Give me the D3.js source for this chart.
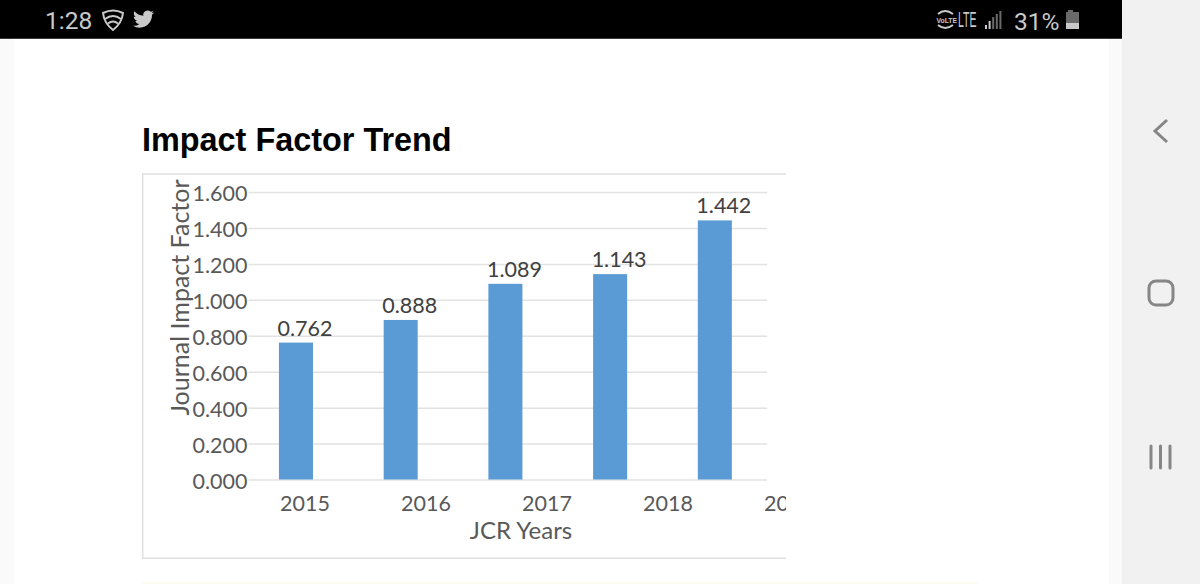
<!DOCTYPE html>
<html>
<head>
<meta charset="utf-8">
<script src="https://cdn.jsdelivr.net/npm/d3@7"></script>
<style>
  html, body { margin: 0; padding: 0; background: #fff; overflow: hidden; }
  svg { display: block; }
  .axis text { font-family: Lato, sans-serif; font-size: 21.5px; fill: #595959; }
  .axis path { display: none; }
  .grid line { stroke: #e2e2e2; stroke-width: 1.5; }
</style>
</head>
<body>
<svg id="chart" width="1200" height="584"></svg>
<script>
const barYears = ["2015", "2016", "2017", "2018", "2019"];
const barValues = [0.762, 0.888, 1.089, 1.143, 1.442];
const labelYears = ["2015", "2016", "2017", "2018", "2019"];
const yTicks = [0, 0.2, 0.4, 0.6, 0.8, 1.0, 1.2, 1.4, 1.6];

const svg = d3.select("#chart");

// Phone screen background
svg.append("rect").attr("width", 1200).attr("height", 584).attr("fill", "#ffffff");
svg.append("rect").attr("x", 0).attr("y", 39).attr("width", 14).attr("height", 545).attr("fill", "#fafafa");
svg.append("rect").attr("x", 1109).attr("y", 39).attr("width", 13).attr("height", 545).attr("fill", "#fafafa");
svg.append("rect").attr("x", 1122).attr("y", 0).attr("width", 78).attr("height", 584).attr("fill", "#f1f1f1");
svg.append("rect").attr("x", 142).attr("y", 582).attr("width", 836).attr("height", 2).attr("fill", "#fdfcf3");

// Status bar
svg.append("rect").attr("width", 1122).attr("height", 38).attr("fill", "#000000");
svg.append("rect").attr("y", 38).attr("width", 1122).attr("height", 1).attr("fill", "#3a3a3a");

const statusColor = "#c9c9c9";
const statusText = (x, y, size, str, family) => svg.append("text")
  .attr("x", x).attr("y", y)
  .attr("font-family", family || "Roboto, sans-serif")
  .attr("font-size", size)
  .attr("fill", statusColor)
  .text(str);

statusText(45, 29, 24.5, "1:28");
statusText(1014, 29.5, 24.5, "31%");

// Shield icon
const shield = svg.append("g").attr("fill", "none").attr("stroke", statusColor).attr("stroke-width", 2);
shield.append("path").attr("d", "M103 13 Q113 8 123 13 Q122 23 113 30 Q104 23 103 13 Z");
shield.append("path").attr("d", "M105 19 Q113 13 121 19");
shield.append("path").attr("d", "M108 23.5 Q113 19.5 118 23.5");

// Twitter bird
svg.append("path")
  .attr("transform", "translate(133,8.5) scale(0.88)")
  .attr("fill", statusColor)
  .attr("d", "M23.95 4.57a10 10 0 0 1-2.82.77 4.96 4.96 0 0 0 2.16-2.72c-.95.55-2 .96-3.13 1.19a4.92 4.92 0 0 0-8.38 4.48C7.69 8.1 4.07 6.13 1.64 3.16a4.82 4.82 0 0 0-.66 2.47c0 1.71.87 3.21 2.19 4.1a4.9 4.9 0 0 1-2.23-.62v.06a4.92 4.92 0 0 0 3.95 4.83 5 5 0 0 1-2.21.08 4.94 4.94 0 0 0 4.6 3.42A9.87 9.87 0 0 1 0 19.54a14 14 0 0 0 7.56 2.21c9.05 0 14-7.5 14-13.98 0-.21 0-.42-.02-.63a9.94 9.94 0 0 0 2.46-2.55z");

// VoLTE + LTE, both narrowed with a scale so their boxes stay apart
statusText(0, 0, 8, "VoLTE", "'Liberation Sans Narrow', sans-serif")
  .attr("font-weight", 700)
  .attr("transform", "translate(936.5,22.5) scale(0.85,1)");
const volte = svg.append("g").attr("fill", "none").attr("stroke", statusColor).attr("stroke-width", 2);
volte.append("path").attr("d", "M938 14 Q945 8 953 14");
volte.append("path").attr("d", "M938 25 Q945 31 953 25");
statusText(0, 0, 22, "LTE", "'Liberation Sans Narrow', sans-serif")
  .attr("transform", "translate(958,27) scale(0.48,1)");

// Signal bars (height rises left to right, last ones dimmed)
[4, 8, 12, 15, 18].forEach((h, i) => {
  svg.append("rect")
    .attr("x", 985 + i * 3.6).attr("y", 29 - h)
    .attr("width", 2).attr("height", h)
    .attr("fill", i < 2 ? statusColor : "#6a6a6a");
});

// Battery
svg.append("rect").attr("x", 1068).attr("y", 10).attr("width", 5).attr("height", 3).attr("fill", "#6a6a6a");
svg.append("rect").attr("x", 1066).attr("y", 12).attr("width", 13).attr("height", 11).attr("fill", "#6a6a6a");
svg.append("rect").attr("x", 1066).attr("y", 23).attr("width", 13).attr("height", 6).attr("fill", statusColor);

// Navigation buttons
const nav = svg.append("g").attr("fill", "none").attr("stroke", "#868686").attr("stroke-width", 3);
nav.append("path").attr("d", "M1167 120 L1155 131 L1167 142");
nav.append("rect").attr("x", 1149).attr("y", 281).attr("width", 24).attr("height", 24).attr("rx", 7);
[1151, 1160.5, 1170].forEach(x => {
  nav.append("line").attr("x1", x).attr("x2", x).attr("y1", 446).attr("y2", 468)
    .attr("stroke-linecap", "round");
});

// Title
svg.append("text")
  .attr("x", 142).attr("y", 151)
  .attr("font-family", "'Liberation Sans', Arial, sans-serif")
  .attr("font-weight", 700)
  .attr("font-size", 32.4)
  .attr("fill", "#000000")
  .text("Impact Factor Trend");

// Card border, open on the right
svg.append("path")
  .attr("d", "M786 174 H142.7 V558.3 H786")
  .attr("fill", "none")
  .attr("stroke", "#e0e0e0")
  .attr("stroke-width", 1.5);

svg.append("clipPath").attr("id", "card-clip")
  .append("rect").attr("x", 142).attr("y", 174).attr("width", 644).attr("height", 385);

const chart = svg.append("g").attr("clip-path", "url(#card-clip)");

// Scales. The year labels sit on a wider band than the bars, as in the source image.
const x = d3.scaleBand().domain(barYears).range([243.6, 767.2]).paddingInner(0.675).paddingOuter(0.3375);
const xLabels = d3.scaleBand().domain(labelYears).range([244.5, 849.5]);
const y = d3.scaleLinear().domain([0, 1.6]).range([479.5, 192]);

// Gridlines
chart.append("g")
  .attr("class", "grid")
  .attr("transform", "translate(243.6,0)")
  .call(d3.axisLeft(y).tickValues(yTicks).tickSize(-523.6).tickFormat(""))
  .call(g => g.select(".domain").remove())
  .call(g => g.selectAll("line").attr("x1", 5));

// Y axis
chart.append("g")
  .attr("class", "axis")
  .attr("transform", "translate(247.5,2)")
  .call(d3.axisLeft(y).tickValues(yTicks).tickSize(0).tickPadding(0).tickFormat(d3.format(".3f")));

// X axis
chart.append("g")
  .attr("class", "axis")
  .attr("transform", "translate(0,496)")
  .call(d3.axisBottom(xLabels).tickSize(0).tickPadding(0));

// Bars
chart.selectAll(".bar")
  .data(barValues)
  .join("rect")
  .attr("class", "bar")
  .attr("x", (d, i) => x(barYears[i]))
  .attr("y", d => y(d))
  .attr("width", x.bandwidth())
  .attr("height", d => y(0) - y(d))
  .attr("fill", "#5b9bd5");

// Value labels
chart.selectAll(".value")
  .data(barValues)
  .join("text")
  .attr("class", "value")
  .attr("x", (d, i) => x(barYears[i]) + x.bandwidth() / 2 + 9)
  .attr("y", d => y(d) - 7)
  .attr("text-anchor", "middle")
  .attr("font-family", "Lato, sans-serif")
  .attr("font-size", 21.5)
  .attr("fill", "#404040")
  .text(d => d3.format(".3f")(d));

// Axis titles
chart.append("text")
  .attr("x", 521).attr("y", 539)
  .attr("text-anchor", "middle")
  .attr("font-family", "Lato, sans-serif")
  .attr("font-size", 24)
  .attr("fill", "#595959")
  .text("JCR Years");

chart.append("text")
  .attr("transform", "translate(189,297.5) rotate(-90)")
  .attr("text-anchor", "middle")
  .attr("font-family", "Lato, sans-serif")
  .attr("font-size", 25)
  .attr("fill", "#595959")
  .text("Journal Impact Factor");
</script>
</body>
</html>
